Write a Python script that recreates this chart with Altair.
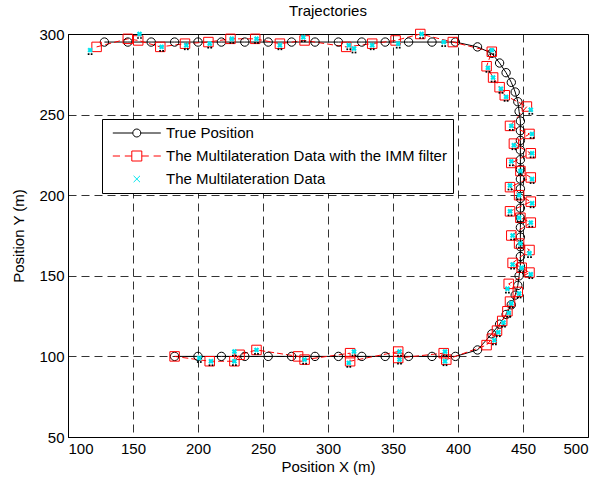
import altair as alt
import pandas as pd

# ---- data ----
true_x = [128,146,164,182,200,218,236,254,272,290,308,326,344,362,380,398,
          415,426,432,437,441,444,446,447,448,448,448,448,448,448,448,448,448,448,448,448,448,448,448,448,447,446,444,441,437,432,426,415,
          398,380,362,344,326,308,290,272,254,236,218,200,182]
true_y = [295]*16 + [292,288,282,276,270,264,258,252,246,240,234,228,222,216,210,204,198,192,186,180,174,168,162,156,150,144,138,132,126,120,114,104] + [100]*13

imm_x = [122,146,154,171,190,208,225,244,263,282,314,334,352,371,396,
         426,422,427,432,436,453,440,455,443,456,441,448,456,440,447,456,440,448,456,441,447,455,442,449,455,439,446,440,438,434,430,426,422,
         391,389,354,354,317,317,282,277,245,232,228,209,182]
imm_y = [292,297,296,292,294,295,297,297,294,296,292,294,296,300,295,
         289,280,273,267,262,255,243,238,232,226,220,215,211,205,200,196,190,186,183,175,170,166,158,155,152,145,140,134,128,122,116,111,107,
         98,102,99,103,97,102,98,100,104,101,97,97,100]

ml_x = [117,155,172,191,209,226,245,263,281,316,320,334,354,372,389,
        426,423,427,433,437,456,441,457,443,457,441,448,457,440,447,457,440,447,456,442,448,455,442,449,456,438,447,441,439,435,431,428,
        390,390,355,355,316,320,282,245,228,228,210,201]
ml_y = [290,300,292,293,294,297,297,293,298,293,291,293,294,300,295,
        290,279,273,266,261,253,243,238,231,226,221,215,210,206,200,195,190,186,183,175,170,164,157,155,151,142,139,133,127,121,115,110,
        97,103,98,103,96,103,98,104,103,97,97,99]

s_true = "True Position"
s_imm = "The Multilateration Data with the IMM filter"
s_ml = "The Multilateration Data"
names = [s_true, s_imm, s_ml]

df_true = pd.DataFrame({"x": true_x, "y": true_y, "i": range(len(true_x))})
df_imm = pd.DataFrame({"x": imm_x, "y": imm_y, "i": range(len(imm_x))})
df_ml = pd.DataFrame({"x": ml_x, "y": ml_y})
df_leg = pd.DataFrame({"x": true_x[:3], "y": true_y[:3], "s": names})

xs = alt.Scale(domain=[100, 500], nice=False, zero=False)
ys = alt.Scale(domain=[50, 300], nice=False, zero=False)
X = alt.X("x:Q", scale=xs, title="Position X (m)",
          axis=alt.Axis(values=[100,150,200,250,300,350,400,450,500]))
Y = alt.Y("y:Q", scale=ys, title="Position Y (m)",
          axis=alt.Axis(values=[50,100,150,200,250,300]))

CYAN = "#00e5ee"

true_line = alt.Chart(df_true).mark_line(color="black", strokeWidth=1).encode(x=X, y=Y, order="i:Q")
true_pts = alt.Chart(df_true).mark_point(shape="circle", filled=False, color="black", size=70, strokeWidth=1, opacity=1).encode(x=X, y=Y)
imm_line = alt.Chart(df_imm).mark_line(color="red", strokeWidth=1, strokeDash=[6, 3]).encode(x=X, y=Y, order="i:Q")
imm_pts = alt.Chart(df_imm).mark_point(shape="square", filled=False, color="red", size=90, strokeWidth=1, opacity=1).encode(x=X, y=Y)
ml_dots = alt.Chart(df_ml).mark_point(shape="M-1,-1H1V1H-1Z", filled=True, color="black", size=3, opacity=1, yOffset=4, xOffset=-1.5).encode(x=X, y=Y)
ml_dots2 = alt.Chart(df_ml).mark_point(shape="M-1,-1H1V1H-1Z", filled=True, color="black", size=3, opacity=1, yOffset=4, xOffset=1.5).encode(x=X, y=Y)
ml_pts = alt.Chart(df_ml).mark_point(shape="cross", angle=45, filled=True, color=CYAN, size=30, opacity=1).encode(x=X, y=Y)

# legend generator: invisible marks, legend drawn from explicit scale domains
# symbol unit = 8 px (size 256); paths drawn to the right of the symbol box
paths = [
    "M-0.4,0H2.1M3.1,0H5.6M2.1,0A0.5,0.5 0 1,0 3.1,0A0.5,0.5 0 1,0 2.1,0",
    "M-0.4,0H0.5M1.1,0H1.975M1.975,-0.625H3.225V0.625H1.975ZM3.225,0H4.1M4.7,0H5.6",
    "M2.2,-0.4L3.0,0.4M2.2,0.4L3.0,-0.4",
]
legend_spec = alt.Legend(orient="none", legendX=34, legendY=85, direction="vertical",
                         padding=5.5, rowPadding=6, labelFontSize=15, labelFont="Liberation Sans",
                         labelColor="black", strokeColor="black", fillColor="white",
                         symbolSize=256, symbolStrokeWidth=1, symbolOpacity=1, labelOffset=41.5, labelLimit=400)
leg = alt.Chart(df_leg).mark_point(filled=False, strokeWidth=1, opacity=0).encode(
    x=X, y=Y,
    shape=alt.Shape("s:N", scale=alt.Scale(domain=names, range=paths), title=None, legend=legend_spec),
    color=alt.Color("s:N", scale=alt.Scale(domain=names, range=["black", "red", CYAN]), title=None, legend=legend_spec),
)

chart = alt.layer(true_line, imm_line, true_pts, imm_pts, ml_dots, ml_dots2, ml_pts, leg).properties(
    width=520, height=403,
    title=alt.TitleParams("Trajectories", fontSize=15, font="Liberation Sans", fontWeight="normal", offset=8, color="black"),
    autosize=alt.AutoSizeParams(type="none"),
    padding={"left": 68, "top": 34, "right": 28, "bottom": 48},
).configure_view(stroke="black", strokeWidth=1).configure_axis(
    domainColor="black", gridColor="black", gridDash=[8, 5], gridOpacity=0.8, gridWidth=1,
    ticks=False, labelFont="Liberation Sans", labelFontSize=15, labelColor="black",
    titleFont="Liberation Sans", titleFontSize=15, titleFontWeight="normal", titleColor="black", labelPadding=4,
).configure_axisY(titlePadding=12).configure_axisX(titlePadding=3)

chart.save("out.html", embed_options={"renderer": "svg", "actions": False})
